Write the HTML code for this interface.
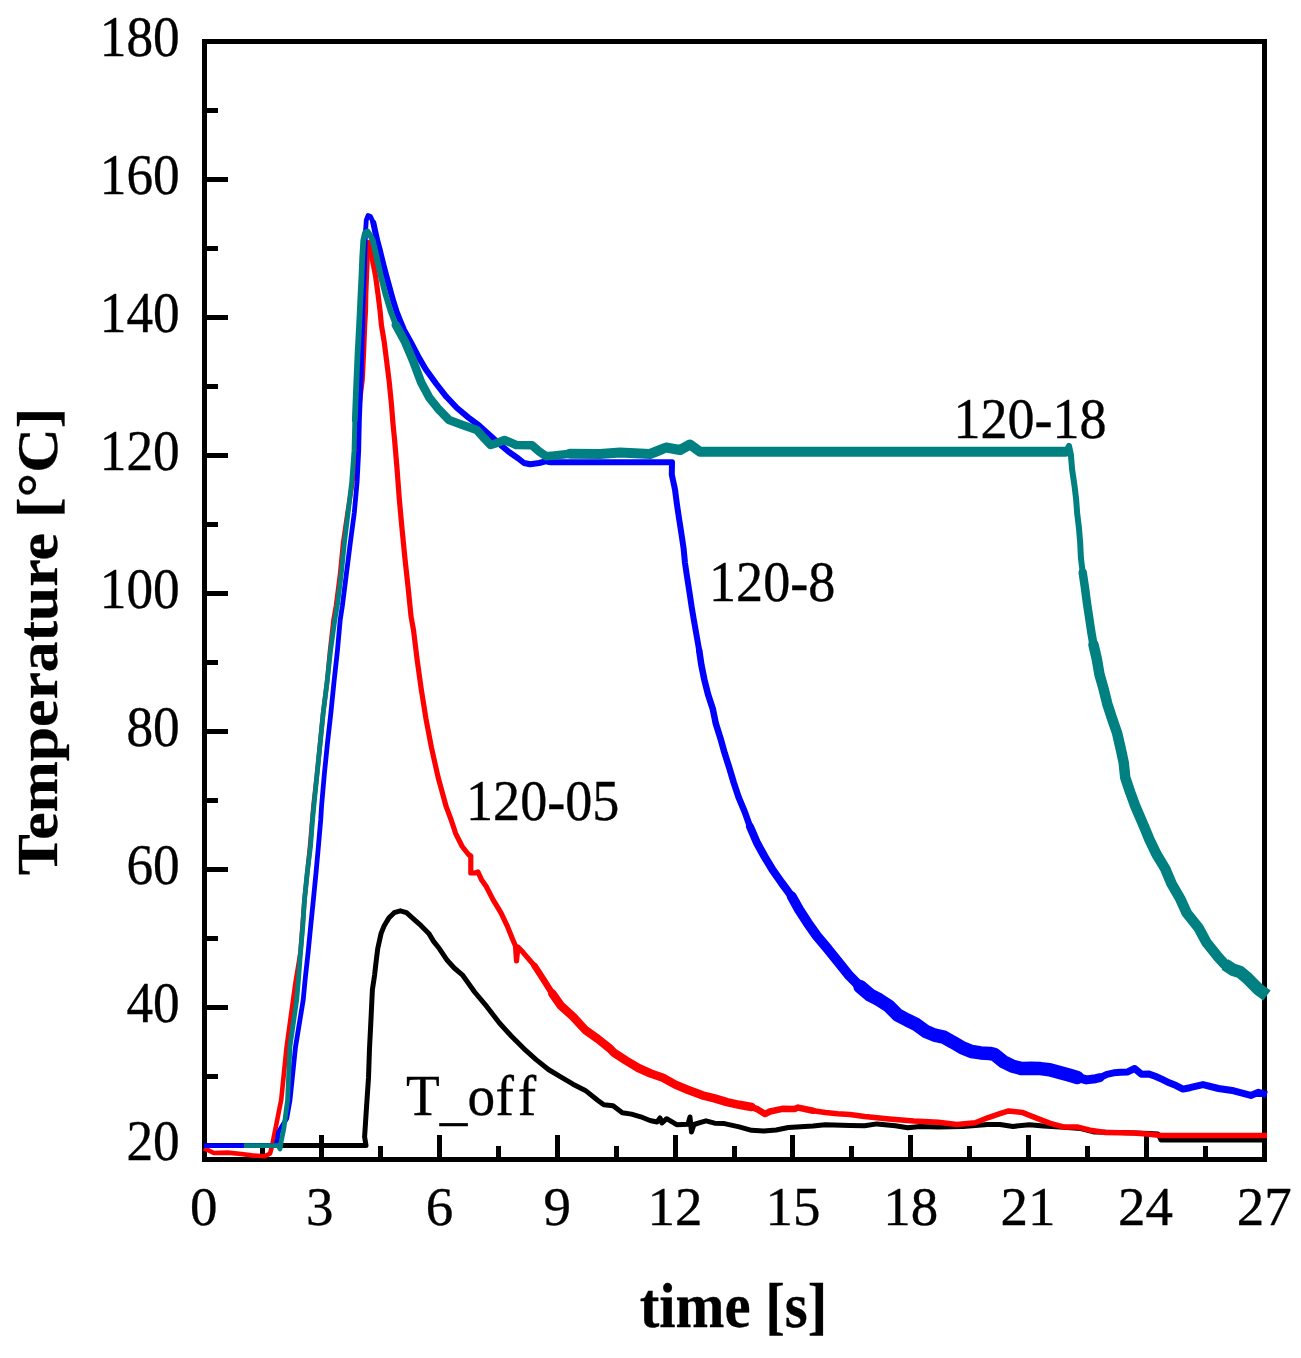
<!DOCTYPE html>
<html><head><meta charset="utf-8"><style>
html,body{margin:0;padding:0;background:#fff;}
svg{display:block;}
text{font-family:"Liberation Serif","Times New Roman",serif;font-variant-ligatures:none;font-feature-settings:"liga" 0;}
</style></head><body>
<svg width="1301" height="1358" viewBox="0 0 1301 1358">
<rect width="1301" height="1358" fill="#fff"/>
<g fill="none" stroke="#000" stroke-width="5" shape-rendering="crispEdges">
<rect x="204.5" y="41.5" width="1060" height="1118"/>
<path d="M204.5 1145.5H228 M204.5 1007.5H228 M204.5 869.5H228 M204.5 731.5H228 M204.5 593.5H228 M204.5 455.5H228 M204.5 317.5H228 M204.5 179.5H228 M204.5 41.5H228 M204.5 1076.5H217.5 M204.5 938.5H217.5 M204.5 800.5H217.5 M204.5 662.5H217.5 M204.5 524.5H217.5 M204.5 386.5H217.5 M204.5 248.5H217.5 M204.5 110.5H217.5 M321.5 1159.5V1135 M439.4 1159.5V1135 M557.2 1159.5V1135 M675.1 1159.5V1135 M792.9 1159.5V1135 M910.7 1159.5V1135 M1028.6 1159.5V1135 M1146.4 1159.5V1135 M262.6 1159.5V1146 M380.5 1159.5V1146 M498.3 1159.5V1146 M616.1 1159.5V1146 M734.0 1159.5V1146 M851.8 1159.5V1146 M969.7 1159.5V1146 M1087.5 1159.5V1146 M1205.3 1159.5V1146"/>
</g>
<g fill="none" stroke="#000" stroke-linejoin="round" stroke-linecap="round">
<path stroke-width="5" stroke-linecap="butt" d="M204.0 1145.5 L366.0 1145.5 L364.6 1136.9 L366.5 1107.4 L368.5 1077.9 L369.5 1048.5 L371.0 1019.0 L372.4 989.5 L374.6 975.0 L375.8 964.2 L377.7 948.8 L381.1 933.4 L384.2 925.7 L388.8 918.1 L394.2 912.7 L400.3 910.8 L406.5 912.7 L412.6 918.1 L421.1 925.7 L428.8 933.4 L433.4 941.1 L439.5 948.8 L447.2 960.3 L454.2 968.0 L462.3 974.8 L474.6 992.0 L486.9 1006.7 L499.2 1022.7 L511.5 1036.3 L523.8 1048.6 L536.1 1059.6 L548.4 1069.5 L560.7 1076.9 L573.0 1084.2 L585.3 1090.4 L597.6 1100.2 L603.8 1104.8 L613.1 1105.8 L622.3 1112.7 L631.5 1114.1 L640.7 1116.8 L650.0 1120.5 L657.0 1122.0 L660.0 1118.0 L662.0 1123.0 L666.6 1118.7 L676.7 1124.7 L688.0 1124.2 L690.0 1117.0 L691.5 1132.0 L694.0 1124.5 L700.7 1122.4 L706.0 1120.8 L714.6 1123.2 L724.4 1123.6 L739.2 1126.9 L751.5 1130.3 L763.8 1131.0 L776.1 1130.0 L788.4 1127.5 L800.7 1126.7 L813.0 1126.0 L825.3 1124.8 L850.0 1125.5 L864.6 1125.8 L876.9 1123.9 L895.4 1125.8 L907.7 1127.8 L920.0 1126.4 L938.4 1127.0 L963.0 1126.5 L987.6 1124.5 L1000.0 1124.6 L1013.0 1126.4 L1029.6 1124.7 L1043.4 1126.1 L1060.0 1127.0 L1080.8 1128.5 L1094.6 1132.0 L1120.0 1132.5 L1150.0 1133.5 L1158.0 1134.0 L1161.0 1140.0 L1267.0 1140.0"/>
</g>
<g fill="none" stroke="#f00" stroke-linejoin="round" stroke-linecap="round">
<path stroke-width="4.6" stroke-linecap="butt" d="M203.9 1148.4 L209.2 1150.7 L213.8 1153.0 L227.7 1152.6 L241.5 1154.0 L251.7 1155.4 L264.6 1156.3 L270.1 1153.5 L272.0 1146.1 L273.8 1136.9 L276.6 1123.1 L279.3 1109.2 L281.2 1100.0 L286.6 1047.0 L295.5 982.4 L300.5 952.0 L304.5 899.5 L310.0 846.5 L313.5 805.6 L317.0 774.6 L320.1 743.7 L323.2 712.8 L327.1 681.9 L330.0 650.9 L333.5 620.0 L336.0 605.6 L340.0 574.6 L343.0 543.7 L347.5 512.8 L352.5 481.9 L355.5 450.0 L358.0 420.0 L360.0 400.0 L362.5 380.0 L364.0 350.0 L365.0 325.0 L365.8 311.0 L366.1 293.3 L366.8 275.7 L367.5 258.0 L367.5 243.0 L368.5 242.5"/>
<path stroke-width="5.2" d="M368.5 242.5 L370.8 249.2 L372.1 258.0 L375.5 275.7 L377.9 293.3 L380.1 311.0 L381.4 325.0 L384.1 341.2 L386.5 360.0 L389.3 382.5 L391.5 405.0 L393.0 423.7 L394.6 440.0 L397.1 469.5 L399.3 499.0 L402.0 528.5 L404.9 557.9 L408.1 587.4 L411.1 616.9 L413.5 630.0 L417.1 659.5 L421.2 688.9 L425.9 718.4 L431.5 747.8 L438.1 777.3 L446.2 806.7 L451.2 820.0 L455.6 833.3 L462.2 846.5 L468.5 854.5 L470.8 856.0 L470.8 873.0 L475.0 873.0 L478.0 872.0 L481.5 879.7 L486.1 886.3 L493.0 899.6 L501.0 912.8 L507.3 926.1 L512.6 939.3 L515.5 946.0 L516.5 961.0 L518.0 947.0 L523.2 952.6 L534.5 965.8"/>
<path stroke-width="6.5" d="M534.5 965.8 L543.1 979.1 L552.3 993.5"/>
<path stroke-width="8.5" d="M552.3 993.5 L560.7 1005.5 L573.0 1016.6 L585.3 1030.0 L597.6 1038.7 L610.0 1048.6 L613.8 1052.6 L626.1 1060.6 L638.4 1068.0 L650.7 1073.5 L663.0 1077.8 L675.3 1084.6 L687.6 1089.7 L702.3 1095.3 L714.6 1098.4 L726.9 1102.1 L739.2 1104.8 L751.5 1107.0"/>
<path stroke-width="6.5" d="M751.5 1107.0 L757.7 1109.4 L765.0 1114.0 L770.0 1111.5 L782.3 1108.8 L794.6 1109.1 L798.2 1107.6 L813.0 1110.7"/>
<path stroke-width="5.5" stroke-linecap="butt" d="M813.0 1110.7 L825.3 1112.5 L837.6 1113.7 L849.9 1114.6 L864.6 1116.5 L889.2 1119.0 L913.8 1121.1 L938.4 1122.3 L956.9 1124.5 L975.3 1122.7 L987.6 1117.8 L999.9 1113.7 L1008.8 1110.9 L1022.7 1112.6 L1036.5 1118.1 L1050.3 1123.4 L1064.2 1127.1 L1078.0 1127.1 L1091.8 1130.6 L1105.7 1132.4 L1133.4 1133.0 L1147.2 1134.0 L1161.0 1135.4 L1204.6 1135.5 L1267.0 1135.5"/>
</g>
<g fill="none" stroke="#00f" stroke-linejoin="round" stroke-linecap="round">
<path stroke-width="4.8" stroke-linecap="butt" d="M204.0 1145.6 L276.0 1145.6 L277.5 1139.7 L278.4 1132.3 L286.7 1118.5 L290.0 1100.0 L295.5 1047.0 L303.2 1000.0 L305.2 979.0 L308.1 952.5 L310.7 926.0 L313.4 899.5 L316.0 873.0 L318.4 846.5 L320.7 820.0 L321.6 805.6 L324.3 774.6 L327.4 743.7 L330.9 712.8 L334.0 681.9 L337.4 650.9 L340.2 620.0 L342.4 605.6 L346.3 574.6 L350.2 543.7 L354.3 512.8 L357.1 481.9 L358.7 450.9 L359.4 420.0 L361.0 380.0 L362.2 340.0 L362.8 325.0 L362.8 311.0 L363.6 293.3 L364.2 275.7 L365.0 249.0 L365.5 232.0 L366.3 220.0 L368.0 215.5 L370.5 216.5 L373.3 222.7"/>
<path stroke-width="6" d="M373.3 222.7 L375.2 231.5 L377.2 240.3 L379.6 249.2 L381.7 258.0 L383.9 266.8 L386.3 275.7 L388.7 284.5 L391.1 293.3 L393.6 302.2 L396.4 311.0 L399.8 319.8 L404.0 330.0 L410.4 341.5 L418.0 356.0 L425.7 369.2 L436.0 383.5 L446.4 396.8 L457.0 408.0 L468.5 417.6 L479.0 425.5 L490.7 436.0 L500.0 444.5 L509.0 452.0 L518.3 458.5 L524.0 463.0 L530.0 464.3 L539.2 463.0 L545.4 461.3 L550.8 462.3 L672.0 462.3 L671.8 474.7 L675.0 489.5 L676.9 504.2 L679.1 518.9 L681.4 533.6 L683.6 548.4 L685.0 563.1 L687.2 577.8 L689.5 592.5 L691.7 607.3 L694.2 622.0 L696.8 636.7 L699.3 651.0"/>
<path stroke-width="6.5" d="M699.3 651.0 L701.3 664.7 L704.3 679.5 L708.0 694.2 L712.8 708.9 L715.8 723.6 L720.5 738.4 L724.6 753.1 L729.3 767.8 L733.7 782.5 L738.6 797.3 L744.8 812.0 L750.0 826.7"/>
<path stroke-width="8" d="M750.0 826.7 L757.2 843.3 L764.5 856.5 L772.5 869.8 L781.8 883.0 L791.7 896.3"/>
<path stroke-width="10" d="M791.7 896.3 L799.0 909.5 L807.6 922.8 L816.9 936.0 L828.1 949.3 L838.8 962.6 L849.4 975.8 L860.0 986.5"/>
<path stroke-width="13.5" d="M860.0 986.5 L870.0 995.0 L879.2 999.8 L888.5 1005.8 L897.7 1015.0 L906.9 1019.9 L916.1 1024.3 L925.4 1031.2 L934.6 1035.1 L943.8 1037.2 L953.0 1042.3 L962.3 1047.8 L971.5 1051.5 L980.7 1052.9 L989.9 1053.5 L994.2 1054.3 L1003.5 1061.7 L1012.7 1066.3 L1021.9 1068.6 L1031.1 1068.3 L1040.4 1068.6 L1049.6 1069.7 L1058.8 1072.3 L1068.0 1074.8 L1077.3 1077.4"/>
<path stroke-width="9" d="M1077.3 1077.4 L1086.5 1079.9 L1095.7 1078.7 L1100.0 1077.7"/>
<path stroke-width="7" stroke-linecap="butt" d="M1100.0 1077.7 L1106.9 1074.3 L1113.8 1072.8 L1120.7 1072.3 L1127.7 1071.9 L1134.6 1068.5 L1141.5 1074.2 L1148.4 1073.9 L1155.3 1076.3 L1162.2 1079.4 L1169.2 1082.8 L1176.1 1085.6 L1183.0 1089.1 L1189.9 1087.7 L1203.0 1084.6 L1218.5 1088.5 L1233.8 1090.8 L1250.8 1095.4 L1258.5 1092.3 L1266.9 1094.6"/>
</g>
<g fill="none" stroke="#008080" stroke-linejoin="round" stroke-linecap="round">
<path stroke-width="4.8" stroke-linecap="butt" d="M244.0 1145.6 L278.4 1145.6 L280.0 1149.0 L281.2 1141.5 L284.0 1127.7 L286.3 1109.2 L287.6 1100.0 L289.9 1047.0 L296.7 1000.0 L298.5 979.0 L300.5 952.5 L302.8 926.0 L304.5 899.5 L307.2 873.0 L310.5 846.5 L312.5 820.0 L313.9 805.6 L317.0 774.6 L320.1 743.7 L323.2 712.8 L327.1 681.9 L330.5 650.9 L334.8 620.0 L337.3 605.6 L341.2 574.6 L344.3 543.7 L348.1 512.8 L351.7 481.9 L354.0 450.9 L354.8 420.0"/>
<path stroke-width="5.8" d="M354.8 420.0 L356.0 390.0 L357.5 355.0 L359.1 325.0 L359.8 311.0 L360.6 293.3 L361.5 275.7 L362.2 258.0 L363.3 240.3 L365.0 233.0 L367.5 231.5 L370.0 235.0 L372.8 240.3 L376.8 258.0 L380.8 275.7 L385.2 293.3 L390.5 311.0 L395.8 325.0"/>
<path stroke-width="8.5" d="M395.8 325.0 L404.7 341.2 L413.5 361.9 L421.2 382.5 L429.5 397.9 L437.7 408.2 L449.0 420.0 L462.5 425.0 L476.8 430.0 L483.0 437.0 L490.7 445.0 L497.0 443.0 L504.5 440.0 L516.2 445.0 L532.0 445.3 L539.2 451.5 L546.0 456.3 L554.6 455.4 L570.0 453.8"/>
<path stroke-width="10" d="M570.0 453.8 L600.0 454.0 L620.0 452.5 L650.0 454.0 L660.0 450.0 L666.0 447.5 L680.0 450.0 L690.0 444.5 L700.0 451.8 L800.0 451.8 L900.0 451.8 L1000.0 451.8 L1066.0 451.8"/>
<path stroke-width="6" d="M1066.0 451.8 L1069.0 446.0 L1070.9 454.7 L1072.1 469.5 L1074.3 484.2 L1076.1 498.9 L1077.2 513.6 L1079.0 528.4 L1080.2 543.1 L1080.9 557.8 L1082.7 572.5"/>
<path stroke-width="8.5" d="M1082.7 572.5 L1084.9 587.3 L1086.8 602.0 L1089.0 616.7 L1091.2 631.5 L1093.5 644.7"/>
<path stroke-width="10.5" d="M1093.5 644.7 L1096.9 659.5 L1099.4 674.2 L1103.6 688.9 L1107.2 703.6 L1112.0 718.4 L1117.1 733.1 L1120.5 747.8 L1123.7 762.5 L1125.2 777.3 L1130.1 792.0 L1135.5 806.7 L1141.9 821.5 L1145.5 830.0 L1149.4 839.4 L1156.5 854.2 L1165.3 868.9 L1171.5 883.6 L1180.0 898.3 L1186.7 913.0 L1198.5 927.8 L1206.5 942.5 L1218.3 957.2 L1225.0 964.6"/>
<path stroke-width="12.5" stroke-linecap="butt" d="M1225.0 964.6 L1233.0 969.7 L1240.0 972.0 L1247.8 978.6 L1258.0 988.9 L1266.9 995.5"/>
</g>
<g fill="#000">
<text transform="translate(179.7 1159.9) scale(0.935 1)" font-size="57" text-anchor="end" stroke="#000" stroke-width="0.35">20</text>
<text transform="translate(179.7 1021.9) scale(0.935 1)" font-size="57" text-anchor="end" stroke="#000" stroke-width="0.35">40</text>
<text transform="translate(179.7 883.9) scale(0.935 1)" font-size="57" text-anchor="end" stroke="#000" stroke-width="0.35">60</text>
<text transform="translate(179.7 745.9) scale(0.935 1)" font-size="57" text-anchor="end" stroke="#000" stroke-width="0.35">80</text>
<text transform="translate(179.7 607.9) scale(0.935 1)" font-size="57" text-anchor="end" stroke="#000" stroke-width="0.35">100</text>
<text transform="translate(179.7 469.9) scale(0.935 1)" font-size="57" text-anchor="end" stroke="#000" stroke-width="0.35">120</text>
<text transform="translate(179.7 331.9) scale(0.935 1)" font-size="57" text-anchor="end" stroke="#000" stroke-width="0.35">140</text>
<text transform="translate(179.7 193.9) scale(0.935 1)" font-size="57" text-anchor="end" stroke="#000" stroke-width="0.35">160</text>
<text transform="translate(179.7 55.9) scale(0.935 1)" font-size="57" text-anchor="end" stroke="#000" stroke-width="0.35">180</text>
<text transform="translate(203.7 1225.0) scale(0.985 1)" font-size="55.8" text-anchor="middle" stroke="#000" stroke-width="0.35">0</text>
<text transform="translate(319.7 1225.0) scale(0.985 1)" font-size="55.8" text-anchor="middle" stroke="#000" stroke-width="0.35">3</text>
<text transform="translate(439.4 1225.0) scale(0.985 1)" font-size="55.8" text-anchor="middle" stroke="#000" stroke-width="0.35">6</text>
<text transform="translate(557.2 1225.0) scale(0.985 1)" font-size="55.8" text-anchor="middle" stroke="#000" stroke-width="0.35">9</text>
<text transform="translate(675.1 1225.0) scale(0.985 1)" font-size="55.8" text-anchor="middle" stroke="#000" stroke-width="0.35">12</text>
<text transform="translate(792.9 1225.0) scale(0.985 1)" font-size="55.8" text-anchor="middle" stroke="#000" stroke-width="0.35">15</text>
<text transform="translate(910.7 1225.0) scale(0.985 1)" font-size="55.8" text-anchor="middle" stroke="#000" stroke-width="0.35">18</text>
<text transform="translate(1028.1 1225.0) scale(0.985 1)" font-size="55.8" text-anchor="middle" stroke="#000" stroke-width="0.35">21</text>
<text transform="translate(1145.4 1225.0) scale(0.985 1)" font-size="55.8" text-anchor="middle" stroke="#000" stroke-width="0.35">24</text>
<text transform="translate(1264.3 1225.0) scale(0.985 1)" font-size="55.8" text-anchor="middle" stroke="#000" stroke-width="0.35">27</text>
<text transform="translate(733.5 1327.0) scale(0.94 1)" font-size="62.5" font-weight="bold" text-anchor="middle" stroke="#000" stroke-width="0.3">time [s]</text>
<text transform="translate(57.0 641.5) rotate(-90) scale(1.08 1)" font-size="57" font-weight="bold" text-anchor="middle" stroke="#000" stroke-width="0.3">Temperature [°C]</text>
<text transform="translate(953.5 437.5) scale(0.965 1)" font-size="56" stroke="#000" stroke-width="0.35">120-18</text>
<text transform="translate(709.0 600.5) scale(0.95 1)" font-size="57" stroke="#000" stroke-width="0.35">120-8</text>
<text transform="translate(466.0 819.5) scale(0.95 1)" font-size="57" stroke="#000" stroke-width="0.35">120-05</text>
<text transform="translate(406.0 1114.5) scale(0.97 1)" font-size="57" stroke="#000" stroke-width="0.35">T<tspan dy="4.5">_</tspan><tspan dy="-4.5">o</tspan><tspan dx="0.5">f</tspan><tspan dx="4">f</tspan></text>
</g>
</svg>
</body></html>
